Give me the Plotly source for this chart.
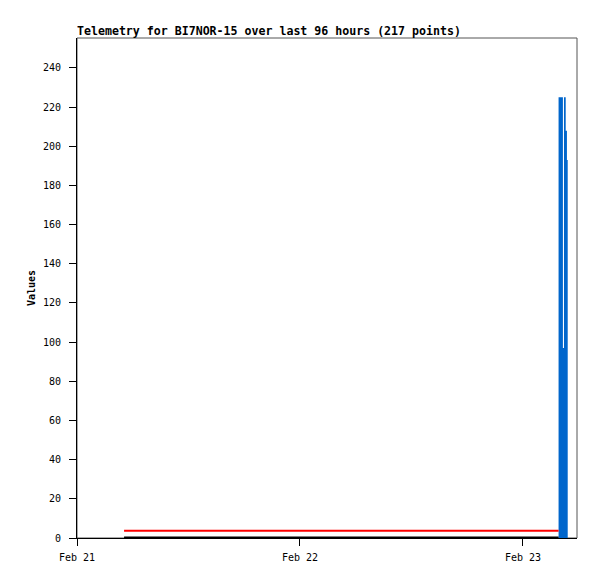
import plotly.graph_objects as go

# Data
black_times = ["2024-02-21 05:04", "2024-02-23 03:50"]
black_vals = [0.3, 0.3]
red_times = ["2024-02-21 05:04", "2024-02-23 03:50"]
red_vals = [3.7, 3.7]
blue_times = ["2024-02-23 03:50", "2024-02-23 04:18", "2024-02-23 04:25",
              "2024-02-23 04:36", "2024-02-23 04:44", "2024-02-23 04:49"]
blue_vals = [225, 97, 225, 208, 193, 193]
x_tick_vals = ["2024-02-21", "2024-02-22", "2024-02-23"]
x_tick_text = ["Feb 21", "Feb 22", "Feb 23"]
y_ticks = [0, 20, 40, 60, 80, 100, 120, 140, 160, 180, 200, 220, 240]

mono = "DejaVu Sans Mono"
W, H = 589, 571  # page has an 8px body margin

fig = go.Figure()
fig.add_trace(go.Scatter(x=blue_times, y=blue_vals, mode="lines", line=dict(color="#0066cc", width=0, shape="hv"),
                         fill="tozeroy", fillcolor="#0066cc", showlegend=False))
fig.add_trace(go.Scatter(x=red_times, y=red_vals, mode="lines", line=dict(color="#ff0000", width=2), showlegend=False))
fig.add_trace(go.Scatter(x=black_times, y=black_vals, mode="lines", line=dict(color="#000000", width=2), showlegend=False))

fig.update_layout(
    width=W, height=H,
    margin=dict(l=69, r=20, t=30, b=41),
    paper_bgcolor="white", plot_bgcolor="white",
    title=dict(text="<b>Telemetry for BI7NOR-15 over last 96 hours (217 points)</b>",
               x=69/W, xanchor="left", y=1-23/H, yanchor="middle",
               font=dict(family=mono, size=11.6, color="black")),
    font=dict(family=mono, size=10, color="black"),
    xaxis=dict(range=["2024-02-21 00:00", "2024-02-23 05:49"], tickvals=x_tick_vals, ticktext=x_tick_text,
               showgrid=False, zeroline=False, showline=True, linecolor="black", linewidth=1,
               ticks="outside", ticklen=7, tickcolor="black", automargin=False, ticklabelstandoff=3,
               tickfont=dict(family=mono, size=10)),
    yaxis=dict(range=[0, 255.3], tickvals=y_ticks, showgrid=False, zeroline=False, showline=True,
               linecolor="black", linewidth=1, ticks="outside", ticklen=7, tickcolor="black",
               ticklabelstandoff=6, automargin=False,
               title=dict(text="<b>Values</b>", font=dict(family=mono, size=10), standoff=5),
               tickfont=dict(family=mono, size=10)),
    shapes=[dict(type="rect", xref="paper", yref="paper", x0=0, x1=1, y0=0, y1=1,
                 line=dict(color="#555555", width=1), layer="below")],
)

fig.write_html("out.html")
